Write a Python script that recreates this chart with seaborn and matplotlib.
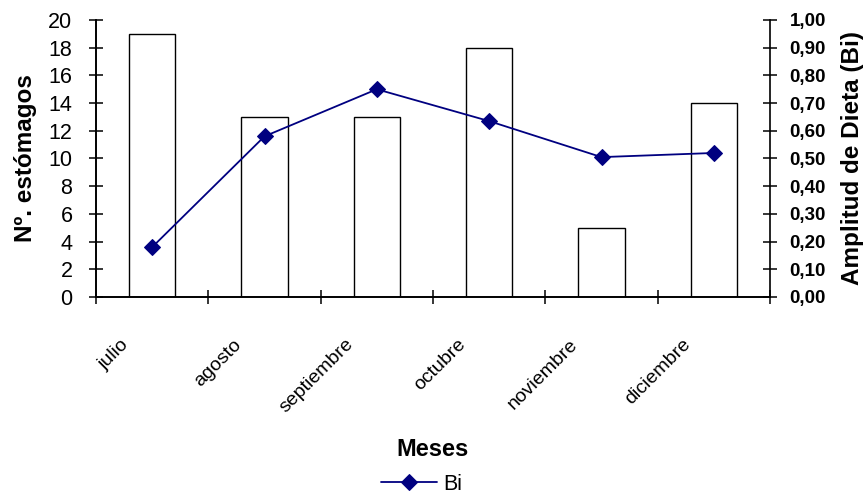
import matplotlib
matplotlib.use("Agg")
import matplotlib.pyplot as plt
import matplotlib.transforms as mtransforms
from matplotlib import font_manager
import seaborn as sns
import pandas as pd

meses = ["julio", "agosto", "septiembre", "octubre", "noviembre", "diciembre"]
estomagos = [19, 13, 13, 18, 5, 14]
bi = [0.18, 0.58, 0.75, 0.635, 0.505, 0.52]
left_ticks = list(range(0, 21, 2))
right_ticks = [i / 10 for i in range(0, 11)]

sns.set_theme(style="white")
plt.rcParams["font.family"] = ["Liberation Sans", "DejaVu Sans"]
for k in ("text.color", "axes.labelcolor", "xtick.color", "ytick.color"):
    plt.rcParams[k] = "black"

narrow = None
try:
    font_manager.findfont("Liberation Sans Narrow", fallback_to_default=False)
    narrow = "Liberation Sans Narrow"
except Exception:
    narrow = None

df = pd.DataFrame({"mes": meses, "n": estomagos, "bi": bi})

fig = plt.figure(figsize=(8.68, 4.95), dpi=100)
ax = fig.add_axes([96 / 868, 1 - 297 / 495, (770 - 96) / 868, (297 - 20) / 495])

sns.barplot(data=df, x="mes", y="n", ax=ax, color="white", edgecolor="black",
            linewidth=1.0, width=0.41, saturation=1)
ax.set_ylim(0, 20)
ax.set_xlim(-0.5, 5.5)
ax.set_yticks(left_ticks)
ax.set_yticklabels([str(t) for t in left_ticks], fontsize=15.5)
ax.tick_params(axis="y", direction="inout", length=10, width=1.1, color="black",
               labelcolor="black", pad=12)

ax2 = ax.twinx()
sns.lineplot(data=df, x="mes", y="bi", ax=ax2, color="#000080", marker="D",
             markersize=8, markeredgecolor="#000080", linewidth=1.3, sort=False,
             label="Bi", legend=False)
ax2.set_ylim(0, 1.0)
ax2.set_xlim(-0.5, 5.5)
ax2.set_yticks(right_ticks)
ax2.set_yticklabels([f"{t:.2f}".replace(".", ",") for t in right_ticks],
                    fontsize=13.5, fontweight="bold")
ax2.tick_params(axis="y", direction="inout", length=10, width=1.1, color="black",
                labelcolor="black", pad=9)
ax2.set_ylabel("Amplitud de Dieta (Bi)", fontsize=17.5, fontweight="bold",
               labelpad=11, color="black")

# x axis: category boundaries as ticks, labels at centers
ax.set_xticks([i - 0.5 for i in range(7)], minor=True)
ax.set_xticks(range(len(meses)))
lab_kw = dict(rotation=45, ha="right", va="top", color="black")
if narrow:
    lab_kw["family"] = narrow
    lab_kw["fontsize"] = 16
else:
    lab_kw["fontsize"] = 14
ax.set_xticklabels(meses, **lab_kw)
ax.tick_params(axis="x", which="major", length=0, pad=28)
ax.tick_params(axis="x", which="minor", direction="inout", length=10, width=1.1,
               color="black", bottom=True)
offset = mtransforms.ScaledTranslation(-20 / 100, 0, fig.dpi_scale_trans)
for lbl in ax.get_xticklabels():
    lbl.set_transform(lbl.get_transform() + offset)

ax.set_xlabel("")
ax.set_ylabel("Nº. estómagos", fontsize=17.5, fontweight="bold", labelpad=8,
              color="black")
ax2.set_xlabel("")

for a in (ax, ax2):
    for s in a.spines.values():
        s.set_color("black")
        s.set_linewidth(1.2)
    a.spines["top"].set_visible(False)
    a.grid(False)
ax.spines["right"].set_visible(False)

fig.text(432 / 868, 1 - 450 / 495, "Meses", ha="center", va="center",
         fontsize=17, fontweight="bold", color="black")

handles, labels = ax2.get_legend_handles_labels()
leg = fig.legend(handles, labels, loc="center", bbox_to_anchor=(422 / 868, 1 - 484 / 495),
                 frameon=False, fontsize=15.5, handlelength=2.6, handletextpad=0.3,
                 borderpad=0, borderaxespad=0)
for t in leg.get_texts():
    t.set_color("black")

fig.savefig("out.png", dpi=100)
